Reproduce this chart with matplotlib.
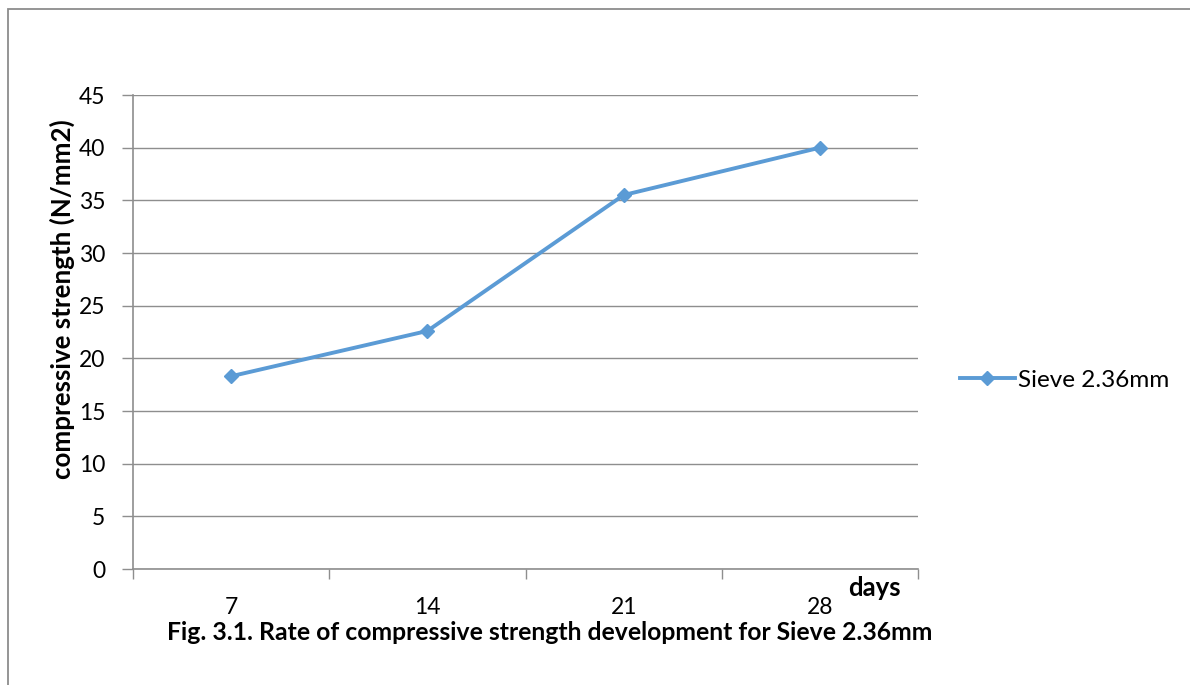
import matplotlib
matplotlib.use("Agg")
import matplotlib.pyplot as plt
from matplotlib.patches import Rectangle
from matplotlib.lines import Line2D

days = ["7", "14", "21", "28"]
strength = [18.3, 22.6, 35.5, 40.0]
series_name = "Sieve 2.36mm"
y_ticks = [0, 5, 10, 15, 20, 25, 30, 35, 40, 45]

plt.rcParams["font.family"] = ["Lato", "DejaVu Sans"]

W, H = 1190, 685
fig = plt.figure(figsize=(W / 100, H / 100), dpi=100)
fig.patch.set_facecolor("white")

# outer chart frame
fig.patches.append(Rectangle((8 / W, -0.1), 1.2, 1 - 9 / H + 0.1, transform=fig.transFigure,
                             fill=False, edgecolor="#8c8c8c", linewidth=1.3))

ax = fig.add_axes([133 / W, 1 - 569 / H, (918 - 133) / W, (569 - 95) / H])
grid_c = "#8e8e8e"
line_c = "#5b9bd5"

x = [i + 0.5 for i in range(len(days))]
ax.plot(x, strength, color=line_c, linewidth=2.8, marker="D", markersize=7.5,
        markeredgecolor=line_c, zorder=3, clip_on=False)

ax.set_xlim(0, len(days))
ax.set_ylim(0, 45)
ax.set_yticks(y_ticks)
ax.yaxis.grid(True, color=grid_c, linewidth=1.0)
ax.set_axisbelow(True)

ax.set_xticks(range(len(days) + 1))
ax.set_xticklabels([])
ax.set_xticks(x, minor=True)
ax.set_xticklabels(days, minor=True)
ax.tick_params(axis="x", which="major", length=7, color=grid_c, width=1.0)
ax.tick_params(axis="x", which="minor", length=0, pad=20, labelsize=16.5)
ax.tick_params(axis="y", length=8, color=grid_c, width=1.0, pad=12, labelsize=16.5)

for s in ["top", "right"]:
    ax.spines[s].set_visible(False)
for s in ["left", "bottom"]:
    ax.spines[s].set_color(grid_c)
    ax.spines[s].set_linewidth(1.2)

fig.text(62 / W, 1 - 299 / H, "compressive strength (N/mm2)", rotation=90,
         fontsize=18.6, fontweight="bold", ha="center", va="center")

fig.text(874 / W, 1 - 588 / H, "days", fontsize=18.5, fontweight="bold", ha="center", va="center")
fig.text(550 / W, 1 - 633 / H, "Fig. 3.1. Rate of compressive strength development for Sieve 2.36mm",
         fontsize=17.8, fontweight="bold", ha="center", va="center")

handle = Line2D([], [], color=line_c, linewidth=2.8, marker="D", markersize=7.5)
fig.legend([handle], [series_name], loc="center left", bbox_to_anchor=(960 / W, 1 - 380 / H),
           frameon=False, fontsize=17.5, handlelength=2.25, handletextpad=0.15,
           borderpad=0.0, borderaxespad=0.0)

fig.savefig("out.png", dpi=100)
